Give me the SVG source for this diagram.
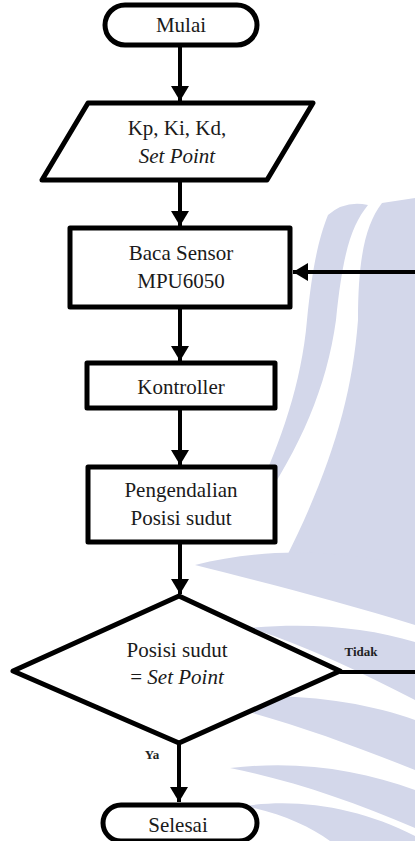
<svg xmlns="http://www.w3.org/2000/svg" width="415" height="841" viewBox="0 0 415 841">
<style>
.wm{fill:#d3d7ea;stroke:none}
.shape{fill:#ffffff;stroke:#000;stroke-width:5;stroke-linejoin:round}
.t{font-family:"Liberation Serif","Times New Roman",serif;font-size:21px;fill:#1a1a1a;text-anchor:middle}
.it{font-style:italic}
.lbl{font-family:"Liberation Serif","Times New Roman",serif;font-size:13px;font-weight:bold;fill:#222;text-anchor:middle}
.conn{fill:none;stroke:#000;stroke-width:4;marker-end:url(#arr)}
</style>
<defs>
<marker id="arr" markerUnits="userSpaceOnUse" markerWidth="16" markerHeight="20" refX="15" refY="10" orient="auto">
<path d="M0,1 L15,10 L0,19 Z" fill="#000"/>
</marker>
</defs>
<rect width="415" height="841" fill="#ffffff"/>
<g id="watermark">
<path class="wm" d="M328,215 Q345,200 368,205 C352,225 343,250 336,320 C325,400 290,470 232,545 C270,470 300,400 307,320 C312,270 318,240 328,215 Z"/>
<path class="wm" d="M382,203 C365,225 358,260 358,320 C352,400 330,470 285,560 C330,572 380,585 415,596 L415,198 Z"/>
<path class="wm" d="M195,565 C260,548 340,548 415,568 L415,625 C340,602 262,582 195,565 Z"/>
<path class="wm" d="M250,628 C310,622 370,628 415,642 L415,700 C360,672 305,645 250,628 Z"/>
<path class="wm" d="M200,700 C280,690 360,700 415,720 L415,770 C340,740 270,715 200,700 Z"/>
<path class="wm" d="M230,768 C300,760 360,770 415,790 L415,828 C350,800 290,780 230,768 Z"/>
<path class="wm" d="M245,806 C300,798 360,808 415,836 L415,841 L330,841 C310,826 280,813 245,806 Z"/>
</g>
<g id="connectors">
<path class="conn" d="M180,45 L180,101"/>
<path class="conn" d="M180,180 L180,226"/>
<path class="conn" d="M180,307 L180,361"/>
<path class="conn" d="M180,408 L180,465"/>
<path class="conn" d="M180,542 L180,594"/>
<path class="conn" d="M179,743 L179,802"/>
<path class="conn" d="M340,672 L422,672 L422,272 L293,272"/>
<text class="lbl" x="361" y="656">Tidak</text>
<text class="lbl" x="152" y="759">Ya</text>
</g>
<g id="mulai">
<rect class="shape" x="105" y="5" width="152" height="40" rx="20"/>
<text class="t" x="181" y="32">Mulai</text>
</g>
<g id="input">
<polygon class="shape" points="88,103 313,103 267,180 42,180"/>
<text class="t" x="177" y="135">Kp, Ki, Kd,</text>
<text class="t it" x="177" y="163">Set Point</text>
</g>
<g id="baca">
<rect class="shape" x="70" y="228" width="220" height="79"/>
<text class="t" x="181" y="260">Baca Sensor</text>
<text class="t" x="181" y="288">MPU6050</text>
</g>
<g id="kontroller">
<rect class="shape" x="87" y="363" width="188" height="45"/>
<text class="t" x="181" y="394">Kontroller</text>
</g>
<g id="pengendalian">
<rect class="shape" x="88" y="467" width="187" height="75"/>
<text class="t" x="181" y="497">Pengendalian</text>
<text class="t" x="181" y="525">Posisi sudut</text>
</g>
<g id="decision">
<polygon class="shape" points="179,596 340,671 179,743 13,671"/>
<text class="t" x="177" y="657">Posisi sudut</text>
<text class="t" x="177" y="684">= <tspan class="it">Set Point</tspan></text>
</g>
<g id="selesai">
<rect class="shape" x="103" y="805" width="154" height="36" rx="18"/>
<text class="t" x="178" y="832">Selesai</text>
</g>
</svg>
